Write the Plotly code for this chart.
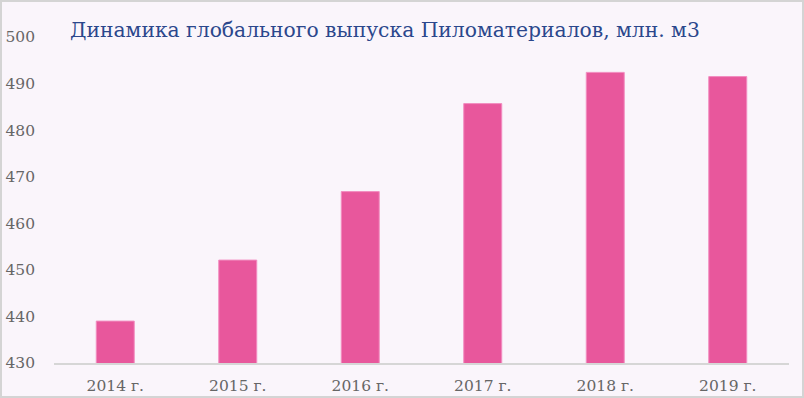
import plotly.graph_objects as go

years = ["2014 г.", "2015 г.", "2016 г.", "2017 г.", "2018 г.", "2019 г."]
output = [439.0, 452.1, 466.8, 485.7, 492.4, 491.5]
y_ticks = [430, 440, 450, 460, 470, 480, 490, 500]

fig = go.Figure(
    go.Bar(
        x=years,
        y=output,
        marker=dict(color="#E8579C", line=dict(color="#F28DC0", width=1)),
        width=0.31,
    )
)

fig.update_layout(
    width=804,
    height=398,
    margin=dict(l=54, r=15, t=37, b=35),
    paper_bgcolor="#FAF5FB",
    plot_bgcolor="#FAF5FB",
    showlegend=False,
    title=dict(
        text="Динамика глобального выпуска Пиломатериалов, млн. м3",
        x=70 / 804,
        xanchor="left",
        y=1 - 30 / 398,
        yanchor="middle",
        font=dict(family="DejaVu Serif", size=20.3, color="#2B478C"),
    ),
    font=dict(family="DejaVu Serif", size=15, color="#666666"),
    bargap=0.69,
)

fig.update_yaxes(
    range=[430, 500],
    tickvals=y_ticks,
    showgrid=False,
    zeroline=False,
    showline=False,
    ticks="",
    automargin=False,
    ticklabelstandoff=18,
    tickfont=dict(family="DejaVu Serif", size=15.5, color="#666666"),
)
fig.update_xaxes(
    showgrid=False,
    showline=True,
    linecolor="#D6D6D6",
    linewidth=1.5,
    ticks="",
    automargin=False,
    ticklabelstandoff=8,
    tickfont=dict(family="DejaVu Serif", size=15.5, color="#666666"),
)

fig.add_shape(
    type="rect",
    xref="paper",
    yref="paper",
    x0=-53 / 735,
    x1=1 + 14 / 735,
    y0=-34 / 326,
    y1=1 + 36 / 326,
    line=dict(color="#D4D4D4", width=2),
    layer="above",
)

fig.write_html("out.html")
